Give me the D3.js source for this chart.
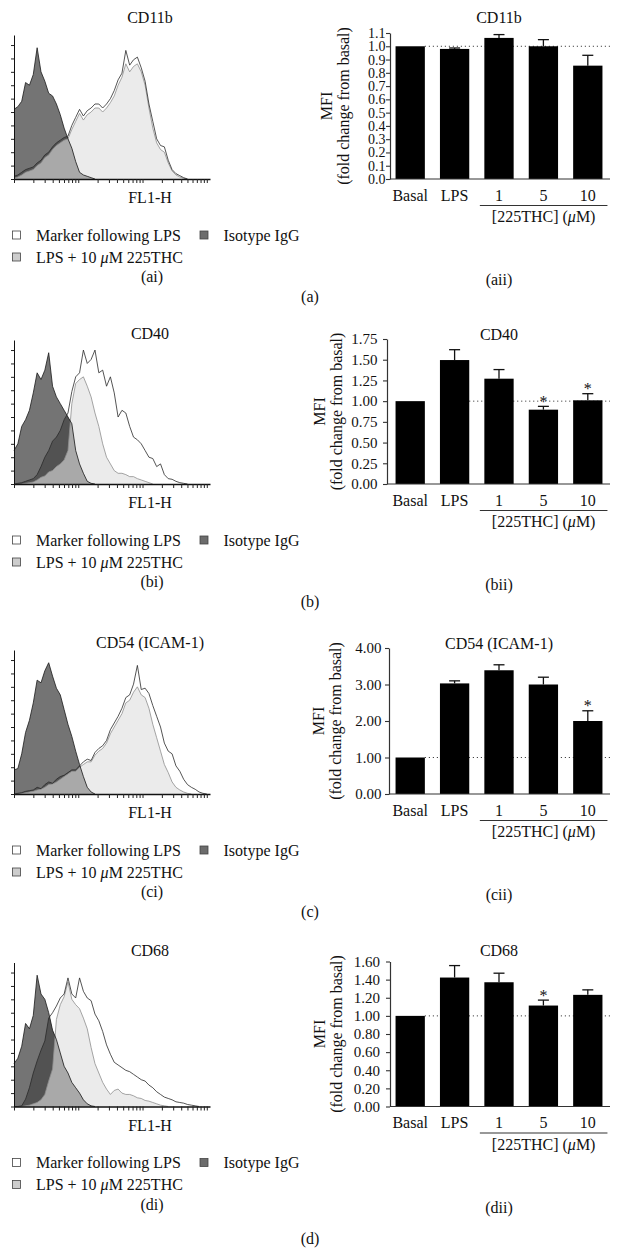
<!DOCTYPE html>
<html><head><meta charset="utf-8">
<script src="https://cdn.jsdelivr.net/npm/d3@7"></script>
<style>
body{margin:0;background:#fff}
svg{display:block}
text{font-family:"Liberation Serif","Times New Roman",serif;fill:#111}
</style>
</head><body>
<svg id="c" width="621" height="1256"></svg>
<script>
// ---------- data ----------
const categories = ["Basal","LPS","1","5","10"];
const markerNames = ["CD11b","CD40","CD54 (ICAM-1)","CD68"];
const legendLabels = ["Marker following LPS","LPS + 10 μM 225THC","Isotype IgG"];

// bar chart values (fold change from basal) and SEM
const mfiCD11b = [1.00,0.98,1.063,1.00,0.854];
const semCD11b = [0,0.007,0.025,0.05,0.078];
const mfiCD40  = [1.00,1.496,1.271,0.897,1.01];
const semCD40  = [0,0.125,0.11,0.04,0.08];
const mfiCD54  = [1.00,3.03,3.39,3.00,2.00];
const semCD54  = [0,0.07,0.15,0.20,0.28];
const mfiCD68  = [1.00,1.423,1.371,1.114,1.232];
const semCD68  = [0,0.132,0.10,0.06,0.055];
const starsCD11b = [];
const starsCD40  = ["5","10"];
const starsCD54  = ["10"];
const starsCD68  = ["5"];

const ticksCD11b = [0,0.1,0.2,0.3,0.4,0.5,0.6,0.7,0.8,0.9,1.0,1.1];
const ticksCD40  = [0,0.25,0.5,0.75,1.0,1.25,1.5,1.75];
const ticksCD54  = [0,1,2,3,4];
const ticksCD68  = [0,0.2,0.4,0.6,0.8,1.0,1.2,1.4,1.6];

// flow-cytometry histograms: counts (axis tick units) per log10 channel bin
const binLog = d3.range(52).map(i => +(i*0.06).toFixed(2));
const isoA = [5.2,5.4,5.8,7.2,7.0,7.8,9.8,8.0,7.3,6.4,6.2,5.6,4.8,3.8,3.0,2.3,1.3,0.5,0.3,0.2,0.1,0];
const mkA  = [0.2,0.3,0.5,0.7,0.8,0.9,1.2,1.4,1.8,2.0,2.4,2.7,2.9,3.1,3.2,4.0,4.6,5.2,4.7,5.1,5.3,5.6,5.6,5.3,5.6,6.0,6.6,7.4,7.9,9.6,8.5,8.9,9.1,8.3,7.3,5.6,4.3,3.0,2.5,2.4,1.4,0.7,0.4,0.25,0.1,0];
const thcA = [0.05,0.15,0.3,0.5,0.6,0.7,1.0,1.2,1.6,1.8,2.2,2.5,2.7,2.9,3.0,3.7,4.3,4.9,4.4,4.8,5.0,5.3,5.3,5.0,5.3,5.7,6.2,7.0,7.6,8.6,8.0,8.4,8.6,8.0,7.0,5.3,3.8,2.7,2.2,2.0,1.2,0.6,0.3,0.15,0.05,0];

const isoB = [2.5,3.0,4.3,4.8,5.5,6.8,8.3,7.8,8.5,9.8,7.3,6.5,6.0,5.5,5.0,4.5,2.5,1.5,0.8,0.2,0.05,0];
const mkB  = [0,0.05,0.1,0.2,0.3,0.4,0.7,1.3,2.0,2.5,3.2,3.5,4.0,4.8,5.3,6.9,8.0,8.3,10.0,9.0,9.3,10.0,8.3,8.5,7.3,8.0,6.8,5.0,5.5,5.3,4.3,3.5,3.3,3.0,2.5,2.0,1.9,1.3,1.5,0.7,0.4,0.35,0.2,0.1,0.05,0];
const thcB = [0,0,0,0.05,0.1,0.15,0.3,0.5,0.6,0.9,1.0,1.3,1.5,1.8,2.5,6.0,7.5,7.8,8.0,7.3,6.5,5.3,4.3,3.0,2.0,1.5,1.0,0.8,0.8,0.7,0.55,0.55,0.4,0.3,0.2,0.1,0];

const isoC = [1.8,1.9,3.0,4.6,5.5,6.8,8.5,8.3,9.2,9.8,8.8,7.9,7.4,6.3,5.2,4.3,3.2,2.2,1.3,0.5,0.15,0];
const mkC  = [0,0.05,0.1,0.2,0.25,0.3,0.5,0.4,0.7,0.9,0.8,1.1,1.3,1.4,1.6,1.8,1.8,2.1,2.4,2.6,2.5,3.1,3.4,3.6,4.0,4.8,5.3,5.8,6.4,7.2,7.4,8.2,9.6,7.8,7.9,7.5,6.6,5.8,5.0,3.8,3.2,3.0,2.1,1.7,1.1,0.7,0.5,0.35,0.15,0.05,0];
const thcC = [0,0,0.05,0.1,0.15,0.2,0.3,0.35,0.5,0.7,0.75,0.9,1.1,1.3,1.5,1.7,1.7,2.0,2.2,2.4,2.4,2.9,3.2,3.4,3.8,4.5,5.0,5.5,6.0,6.8,7.0,7.6,8.0,7.4,7.2,6.4,5.2,4.2,3.2,2.2,1.6,0.9,0.5,0.3,0.15,0.05,0];

const isoD = [3.2,3.6,4.5,6.2,5.8,6.8,9.8,8.4,8.0,7.0,5.7,5.0,4.0,3.0,2.5,1.8,1.4,1.0,0.5,0.2,0.05,0];
const mkD  = [0,0,0.05,0.55,1.4,2.5,3.4,4.2,4.9,6.6,7.0,7.5,8.1,8.4,9.6,8.4,8.1,9.6,8.6,8.1,7.9,6.9,6.4,5.6,4.6,3.9,3.3,3.1,2.9,2.7,2.6,2.4,2.2,2.0,1.9,1.6,1.4,1.1,0.9,0.7,0.6,0.5,0.35,0.3,0.25,0.15,0.1,0.05,0];
const thcD = [0,0,0,0.05,0.1,0.2,0.3,0.5,0.9,1.9,2.8,6.5,7.6,8.2,9.3,8.0,7.6,7.3,6.6,5.8,4.4,3.2,2.5,1.8,1.3,0.9,1.2,1.3,1.0,0.9,0.9,0.8,0.65,0.6,0.45,0.4,0.3,0.2,0.1,0.05,0];

// ---------- layout ----------
const panels = [
 {name:markerNames[0], mfi:mfiCD11b, sem:semCD11b, ticks:ticksCD11b, fmt:".1f", stars:starsCD11b,
  iso:isoA, mk:mkA, thc:thcA, letter:"a", tickFS:14,
  bottom:179, barH:146, hT:23, bT:23, axisX:390, gap:0.5, yTitleX:349, dotFrom:0, rowY:123},
 {name:markerNames[1], mfi:mfiCD40, sem:semCD40, ticks:ticksCD40, fmt:".2f", stars:starsCD40,
  iso:isoB, mk:mkB, thc:thcB, letter:"b", tickFS:15,
  bottom:484, barH:145, hT:339, bT:340, axisX:387, gap:5.5, yTitleX:342, dotFrom:1, rowY:123},
 {name:markerNames[2], mfi:mfiCD54, sem:semCD54, ticks:ticksCD54, fmt:".2f", stars:starsCD54,
  iso:isoC, mk:mkC, thc:thcC, letter:"c", tickFS:15,
  bottom:794, barH:146, hT:648, bT:649, axisX:389, gap:3.5, yTitleX:341, dotFrom:0, rowY:123},
 {name:markerNames[3], mfi:mfiCD68, sem:semCD68, ticks:ticksCD68, fmt:".2f", stars:starsCD68,
  iso:isoD, mk:mkD, thc:thcD, letter:"d", tickFS:15,
  bottom:1106.5, barH:145, hT:956, bT:956, axisX:390, gap:6, yTitleX:342, dotFrom:0, rowY:137}
];

const svg = d3.select("#c");
const FS = 16;

panels.forEach((P, pi) => {
  const g = svg.append("g");
  const B = P.bottom;

  // ===== histogram =====
  const xh = d3.scaleLog().domain([1, Math.pow(10, 3.05)]).range([14, 210]);
  const yh = d3.scaleLinear().domain([0, 10.75]).range([B, B - 144]);
  const area = d3.area()
    .x((d, i) => xh(Math.pow(10, binLog[i])))
    .y0(B).y1(d => yh(d));
  const line = d3.line()
    .x((d, i) => xh(Math.pow(10, binLog[i])))
    .y(d => yh(d));

  const clipId = "mk" + pi;
  svg.append("clipPath").attr("id", clipId).append("path").attr("d", area(P.mk));

  g.append("path").attr("d", area(P.mk)).attr("fill", "#fff");
  g.append("path").attr("d", area(P.iso)).attr("fill", "#747474");
  g.append("path").attr("d", area(P.iso)).attr("fill", "#525252").attr("clip-path", `url(#${clipId})`);
  g.append("path").attr("d", area(P.thc)).attr("fill", "#dedede").attr("fill-opacity", 0.62);
  g.append("path").attr("d", line(P.thc)).attr("fill", "none").attr("stroke", "#8e8e8e").attr("stroke-width", 0.8);
  g.append("path").attr("d", line(P.iso)).attr("fill", "none").attr("stroke", "#1a1a1a").attr("stroke-width", 0.8);
  g.append("path").attr("d", line(P.mk)).attr("fill", "none").attr("stroke", "#2a2a2a").attr("stroke-width", 0.8);

  const hx = g.append("g").attr("transform", `translate(0,${B})`)
    .call(d3.axisBottom(xh).tickValues(xh.ticks()).tickFormat("").tickSize(4).tickSizeOuter(0));
  hx.select(".domain").attr("stroke", "#111").attr("stroke-width", 1.4);
  hx.selectAll(".tick line").attr("stroke", "#222");
  const hy = g.append("g").attr("transform", `translate(14,0)`)
    .call(d3.axisLeft(yh).tickValues(d3.range(0, 11)).tickFormat("").tickSize(3).tickSizeOuter(0));
  hy.select(".domain").attr("stroke", "#111");
  hy.selectAll(".tick line").attr("stroke", "#222");

  g.append("text").attr("x", 150).attr("y", P.hT).attr("text-anchor", "middle").attr("font-size", FS).text(P.name);
  g.append("text").attr("x", 150).attr("y", B + 24).attr("text-anchor", "middle").attr("font-size", FS).text("FL1-H");

  // legend
  const legItems = [
    {x: 12.5, row: 0, fill: "#fff", label: legendLabels[0]},
    {x: 200, row: 0, fill: "#6c6c6c", label: legendLabels[2]},
    {x: 12.5, row: 1, fill: "#cdcdcd", label: legendLabels[1]}
  ];
  legItems.forEach(it => {
    const cy = B + 56 + it.row * 22;
    g.append("rect").attr("x", it.x).attr("y", cy - 4).attr("width", 8).attr("height", 8)
      .attr("fill", it.fill).attr("stroke", "#444").attr("stroke-width", 0.8);
    const t = g.append("text").attr("x", it.x + 23.5).attr("y", cy + 5.5).attr("font-size", FS);
    if (it.label.includes("μ")) {
      const parts = it.label.split("μ");
      t.append("tspan").text(parts[0]);
      t.append("tspan").attr("font-style", "italic").text("μ");
      t.append("tspan").text(parts[1]);
    } else t.text(it.label);
  });
  g.append("text").attr("x", 152).attr("y", B + 103).attr("text-anchor", "middle").attr("font-size", FS).text(`(${P.letter}i)`);

  // ===== bar chart =====
  const top = B - P.barH;
  const x = d3.scaleBand().domain(categories).range([388, 610]).paddingInner(0.34).paddingOuter(0.17);
  const y = d3.scaleLinear().domain([0, d3.max(P.ticks)]).range([B, top]);
  const bw = x.bandwidth();

  // dotted reference at 1
  g.append("line")
    .attr("x1", x(categories[P.dotFrom]) + bw).attr("x2", 610)
    .attr("y1", y(1)).attr("y2", y(1))
    .attr("stroke", "#222").attr("stroke-width", 1).attr("stroke-dasharray", "1,3");

  // bars
  g.selectAll(null).data(categories).enter().append("rect")
    .attr("x", d => x(d)).attr("width", bw)
    .attr("y", (d, i) => y(P.mfi[i])).attr("height", (d, i) => B - y(P.mfi[i]))
    .attr("fill", "#000");

  // error bars
  categories.forEach((c, i) => {
    if (P.sem[i] <= 0) return;
    const cx = x(c) + bw / 2;
    const yt = y(P.mfi[i] + P.sem[i]);
    g.append("line").attr("x1", cx).attr("x2", cx).attr("y1", y(P.mfi[i])).attr("y2", yt)
      .attr("stroke", "#111").attr("stroke-width", 1.3);
    g.append("line").attr("x1", cx - 5.5).attr("x2", cx + 5.5).attr("y1", yt).attr("y2", yt)
      .attr("stroke", "#111").attr("stroke-width", 1.3);
    if (P.stars.includes(c)) {
      g.append("text").attr("x", cx).attr("y", yt + 0.5).attr("text-anchor", "middle")
        .attr("font-size", FS).text("*");
    }
  });

  // y axis
  const ya = g.append("g").attr("transform", `translate(${P.axisX},0)`)
    .call(d3.axisLeft(y).tickValues(P.ticks).tickFormat(d3.format(P.fmt)).tickSize(4).tickSizeOuter(0).tickPadding(P.gap));
  ya.select(".domain").attr("stroke", "#333").attr("stroke-width", 1.2);
  ya.selectAll(".tick line").attr("stroke", "#333").attr("stroke-width", 1.1);
  ya.selectAll(".tick text").attr("font-size", P.tickFS).attr("font-family", '"Liberation Serif","Times New Roman",serif').attr("fill", "#111");

  // x axis line
  g.append("line").attr("x1", P.axisX).attr("x2", 610).attr("y1", B).attr("y2", B)
    .attr("stroke", "#333").attr("stroke-width", 1.2);
  g.selectAll(null).data(categories).enter().append("text")
    .attr("x", d => x(d) + bw / 2).attr("y", B + 21.5).attr("text-anchor", "middle")
    .attr("font-size", FS).text(d => d);

  // bracket
  const bx1 = x("1") - 4.5, bx2 = x("10") + bw + 5;
  g.append("line").attr("x1", bx1).attr("x2", bx2).attr("y1", B + 26.5).attr("y2", B + 26.5)
    .attr("stroke", "#333").attr("stroke-width", 1.1);
  const bt = g.append("text").attr("x", (bx1 + bx2) / 2).attr("y", B + 43).attr("text-anchor", "middle").attr("font-size", FS);
  bt.append("tspan").text("[225THC] (");
  bt.append("tspan").attr("font-style", "italic").text("μ");
  bt.append("tspan").text("M)");

  // titles
  g.append("text").attr("x", 499).attr("y", P.bT).attr("text-anchor", "middle").attr("font-size", FS).text(P.name);
  const cyT = B - P.barH / 2;
  g.append("text").attr("transform", `translate(${P.yTitleX},${cyT}) rotate(-90)`)
    .attr("text-anchor", "middle").attr("font-size", FS).text("(fold change from basal)");
  g.append("text").attr("transform", `translate(${P.yTitleX - 17},${cyT}) rotate(-90)`)
    .attr("text-anchor", "middle").attr("font-size", FS).text("MFI");

  g.append("text").attr("x", 499).attr("y", B + 106).attr("text-anchor", "middle").attr("font-size", FS).text(`(${P.letter}ii)`);
  g.append("text").attr("x", 310).attr("y", B + P.rowY).attr("text-anchor", "middle").attr("font-size", FS).text(`(${P.letter})`);
});
</script>
</body></html>
